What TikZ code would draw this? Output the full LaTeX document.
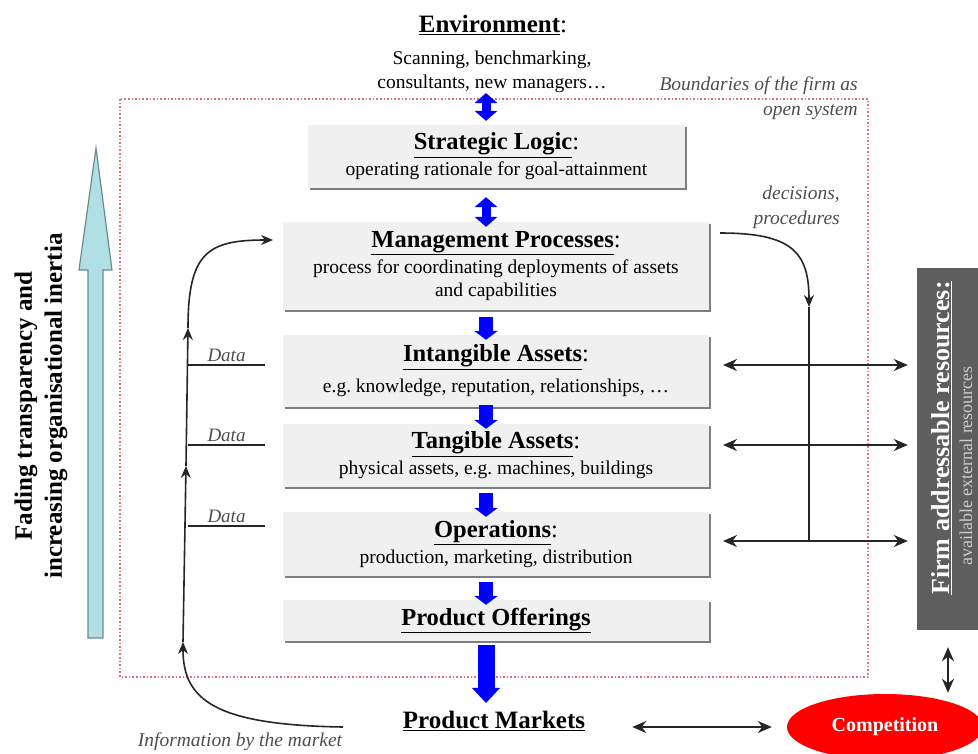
\documentclass[tikz,border=0pt]{standalone}
\usepackage{fontspec}
\setmainfont{Liberation Serif}
\usepackage{tikz}
\usetikzlibrary{arrows.meta,positioning,calc,shadows,shapes.geometric}
\definecolor{boxgray}{HTML}{F0F0F0}
\definecolor{shadgray}{HTML}{7F7F7F}
\definecolor{flowblue}{HTML}{0000FF}
\definecolor{fadecyan}{HTML}{B0E0E6}
\definecolor{fadeedge}{HTML}{6E8A8C}
\definecolor{resgray}{HTML}{5E5E5E}
\definecolor{bndred}{HTML}{E0707C}
\definecolor{notegray}{HTML}{4D4D4D}
\newcommand{\lyrtitle}[2][:]{{\fontsize{24.5}{28}\selectfont\textbf{\underline{#2}}#1}}
\tikzset{
  layerbox/.style={fill=boxgray,inner sep=0pt,minimum width=426pt,align=center,
    font=\fontsize{19.5}{26}\selectfont,
    drop shadow={shadow xshift=2pt,shadow yshift=-2pt,fill=shadgray,opacity=1}},
  headtext/.style={inner sep=0pt,font=\fontsize{25}{30}\selectfont\bfseries},
  plaintext/.style={inner sep=0pt,align=center,font=\fontsize{19.5}{24}\selectfont},
  notetext/.style={inner sep=0pt,text=notegray,font=\fontsize{19.5}{25}\selectfont\itshape},
  datatext/.style={inner sep=1pt,text=notegray,font=\fontsize{19}{22}\selectfont\itshape},
  sidetext/.style={inner sep=0pt,align=center,font=\fontsize{25}{30}\selectfont\bfseries},
  flowdbl/.style={flowblue,line width=9pt,
    {Triangle[length=10pt,width=23pt,line width=0pt]}-{Triangle[length=10pt,width=23pt,line width=0pt]}},
  flowdown/.style={flowblue,line width=14pt,-{Triangle[length=9pt,width=24pt,line width=0pt]}},
  flowbig/.style={flowblue,line width=17pt,-{Triangle[length=15pt,width=28pt,line width=0pt]}},
  resarrow/.style={line width=2pt,black!85,{Stealth[length=14pt,width=12pt]}-{Stealth[length=14pt,width=12pt]}},
  fbline/.style={line width=1.6pt,black!85},
  fbtip/.style={fbline,-{Stealth[length=12pt,width=10pt]}},
  bndline/.style={draw=bndred,dotted,line width=1.6pt},
  resbox/.style={fill=resgray,minimum width=80pt,minimum height=362pt,inner sep=0pt},
  restitle/.style={inner sep=0pt,text=white,font=\fontsize{26}{30}\selectfont\bfseries},
  ressub/.style={inner sep=0pt,text=white!80!black,font=\fontsize{18}{22}\selectfont},
  compnode/.style={ellipse,fill=red,minimum width=196pt,minimum height=66pt,inner sep=0pt,
    text=white,font=\fontsize{20}{24}\selectfont\bfseries},
  fadearrow/.style={fill=fadecyan,draw=fadeedge,line width=1.2pt},
}
\begin{document}
\begin{tikzpicture}[x=1pt,y=-1pt]
  \clip (0,0) rectangle (978,753);
  % boundary of the firm
  \draw[bndline] (120,99) rectangle (868,677);
  \node[notetext,anchor=east,align=right] (bnd) at (858,98) {Boundaries of the firm as\\open system};

  % environment
  \node[headtext] (envhd) at (493,25) {\underline{Environment}\mdseries:};
  \node[plaintext] (env) at (492,72) {Scanning, benchmarking,\\consultants, new managers\dots};

  % layers of the firm
  \node[layerbox,minimum width=377pt,minimum height=63pt] (SL) at (496.5,156.5)
    {\lyrtitle{Strategic Logic}\\operating rationale for goal-attainment};
  \node[layerbox,minimum height=88pt] (MP) at (496,266)
    {\lyrtitle{Management Processes}\\process for coordinating deployments of assets\\[-3pt]and capabilities};
  \node[layerbox,minimum height=72pt] (IA) at (496,371)
    {\lyrtitle{Intangible Assets}\\[5pt]e.g.\ knowledge, reputation, relationships, \dots};
  \node[layerbox,minimum height=63pt] (TA) at (496,455.5)
    {\lyrtitle{Tangible Assets}\\physical assets, e.g.\ machines, buildings};
  \node[layerbox,minimum height=64pt] (OP) at (496,544)
    {\lyrtitle{Operations}\\production, marketing, distribution};
  \node[layerbox,minimum height=41pt] (PO) at (496,620.5) {\lyrtitle[]{Product Offerings}};
  \node[headtext] (mkt) at (494,721) {\underline{Product Markets}};

  % blue flow
  \coordinate (ax) at (486,0);
  \draw[flowdbl,shorten >=4pt] (env.south -| ax) -- (SL.north -| ax);
  \draw[flowdbl,shorten <=9pt,shorten >=-5pt] (SL.south -| ax) -- (MP.north -| ax);
  \foreach \a/\b/\s in {MP/IA/7,IA/TA/-2,TA/OP/6,OP/PO/6}
    \draw[flowdown,shorten <=\s pt,shorten >=-5pt] (\a.south -| ax) -- (\b.north -| ax);
  \draw[flowbig,shorten <=4pt,shorten >=8pt] (PO.south -| ax) -- (mkt.north -| ax);

  % external resources
  \node[resbox] (firm) at (957,449) {};
  \node[restitle,rotate=90] (firmhd) at (942,438) {\underline{Firm addressable resources:}};
  \node[ressub,rotate=90] (firmsub) at (966,466) {available external resources};
  \coordinate (ra1) at (723,365);
  \coordinate (ra2) at (723,445);
  \coordinate (ra3) at (723,541);
  \foreach \r in {ra1,ra2,ra3}
    \draw[resarrow,shorten >=9pt] (\r) -- (firm.west |- \r);

  % decisions
  \node[notetext,anchor=east,align=right] (dec) at (840,207) {decisions,\\procedures};
  \coordinate (dcA) at (720,233);
  \coordinate (dcB) at (809,307);
  \draw[fbtip] (dcA) .. controls (792,233) and (809,252) .. (dcB);
  \draw[fbline] (dcB) -- (ra3 -| dcB);

  % competition
  \node[compnode] (comp) at (885,727) {Competition};
  \coordinate (cx) at (948,0);
  \draw[resarrow,shorten <=17pt,shorten >=1pt] (firm.south -| cx) -- (comp.north -| cx);
  \draw[resarrow,shorten <=47pt,shorten >=15pt] (mkt.east |- comp.west) -- (comp.west);

  % information feedback
  \node[notetext] (info) at (240,742) {Information by the market};
  \coordinate (fbA) at (343,727);
  \coordinate (fbB) at (183,642);
  \coordinate (fbC) at (186,466);
  \coordinate (fbD) at (188,328);
  \coordinate (fbE) at (273,240);
  \draw[fbtip] (fbA) .. controls (215,725) and (183,700) .. (fbB);
  \draw[fbtip] (fbB) -- (fbC);
  \draw[fbtip] (fbC) -- (fbD);
  \draw[fbtip] (fbD) .. controls (188,252) and (208,240) .. (fbE);
  \foreach \y/\n in {365/1,445/2,526/3} {
    \coordinate (dA\n) at (188,\y);
    \coordinate (dB\n) at (265,\y);
    \draw[fbline] (dA\n) -- (dB\n) node[datatext,midway,above=2pt] {Data};
  }

  % transparency
  \draw[fadearrow] (88,638) -- (88,270) -- (79,270) -- (96,148) -- (112,270) -- (103,270) -- (103,638) -- cycle;
  \node[sidetext,rotate=90] (fade) at (41,406) {Fading transparency and\\increasing organisational inertia};
\end{tikzpicture}
\end{document}
